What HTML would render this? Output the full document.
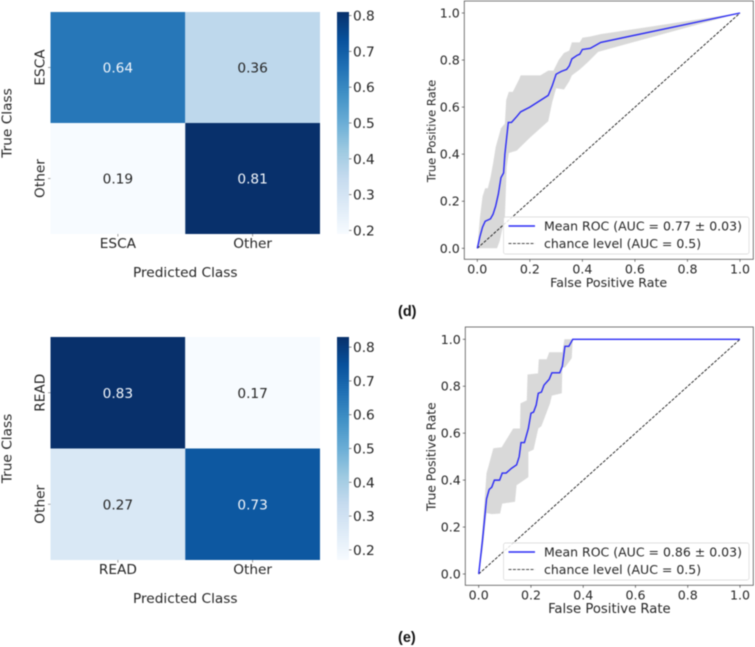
<!DOCTYPE html>
<html lang="en">
<head>
<meta charset="utf-8">
<title>Confusion matrices and ROC curves</title>
<style>
html,body{margin:0;padding:0;background:#fff;width:755px;height:647px;overflow:hidden}
svg{display:block;filter:blur(0.45px)}
text{font-family:"DejaVu Sans",sans-serif;fill:#262626}
text.caption{font-family:"Liberation Sans",sans-serif;font-weight:bold;font-size:14.5px;fill:#111}
</style>
</head>
<body>
<svg id="figure" xmlns="http://www.w3.org/2000/svg" width="755" height="647" viewBox="0 0 755 647">
  <defs id="defs"></defs>
  <g id="heatmap-esca"></g>
  <g id="roc-esca"></g>
  <text class="caption" x="398" y="316">(d)</text>
  <g id="heatmap-read"></g>
  <g id="roc-read"></g>
  <text class="caption" x="398" y="642">(e)</text>
</svg>
<script>
// ---- Confusion matrix data ----
const escaClasses = ['ESCA', 'Other'];
const escaValues = [[0.64, 0.36], [0.19, 0.81]];
const readClasses = ['READ', 'Other'];
const readValues = [[0.83, 0.17], [0.27, 0.73]];
const colorbarTicks = [0.2, 0.3, 0.4, 0.5, 0.6, 0.7, 0.8];

// ---- ROC data: ESCA ----
const escaMeanFpr = [0, 0.01, 0.02, 0.03, 0.05, 0.06, 0.07, 0.08, 0.09, 0.1, 0.105, 0.118, 0.13, 0.15, 0.165, 0.2, 0.27, 0.285, 0.3, 0.32, 0.34, 0.35, 0.36, 0.38, 0.39, 0.4, 0.43, 0.47, 1];
const escaMeanTpr = [0, 0.05, 0.09, 0.115, 0.125, 0.145, 0.18, 0.23, 0.3, 0.32, 0.4, 0.535, 0.535, 0.56, 0.58, 0.6, 0.65, 0.69, 0.74, 0.752, 0.76, 0.775, 0.805, 0.82, 0.825, 0.845, 0.85, 0.875, 1];
const escaUpperFpr = [0, 0.01, 0.02, 0.03, 0.04, 0.05, 0.06, 0.07, 0.09, 0.105, 0.11, 0.12, 0.135, 0.16, 0.165, 0.24, 0.27, 0.29, 0.31, 0.33, 0.35, 0.36, 0.39, 0.4, 0.43, 0.47, 1];
const escaUpperTpr = [0, 0.13, 0.22, 0.255, 0.255, 0.3, 0.36, 0.43, 0.51, 0.53, 0.63, 0.665, 0.665, 0.72, 0.735, 0.735, 0.755, 0.755, 0.8, 0.83, 0.84, 0.875, 0.875, 0.895, 0.9, 0.91, 1];
const escaLowerFpr = [0, 0.075, 0.085, 0.095, 0.105, 0.112, 0.12, 0.15, 0.2, 0.27, 0.285, 0.3, 0.33, 0.35, 0.36, 0.39, 0.42, 0.46, 1];
const escaLowerTpr = [0, 0, 0.03, 0.08, 0.134, 0.347, 0.405, 0.415, 0.47, 0.54, 0.62, 0.68, 0.675, 0.71, 0.735, 0.76, 0.79, 0.835, 1];

// ---- ROC data: READ ----
const readMeanFpr = [0, 0.015, 0.03, 0.04, 0.05, 0.06, 0.08, 0.09, 0.105, 0.125, 0.145, 0.155, 0.162, 0.175, 0.19, 0.2, 0.21, 0.22, 0.228, 0.24, 0.25, 0.27, 0.28, 0.31, 0.32, 0.33, 0.345, 0.36, 1];
const readMeanTpr = [0, 0.15, 0.32, 0.36, 0.37, 0.4, 0.4, 0.43, 0.43, 0.45, 0.465, 0.5, 0.56, 0.56, 0.62, 0.685, 0.69, 0.72, 0.77, 0.775, 0.805, 0.83, 0.857, 0.857, 0.885, 0.97, 0.97, 1, 1];
const readUpperFpr = [0, 0.015, 0.03, 0.04, 0.056, 0.088, 0.132, 0.158, 0.16, 0.184, 0.187, 0.227, 0.23, 0.26, 0.27, 0.32, 0.328, 1];
const readUpperTpr = [0, 0.2, 0.43, 0.47, 0.536, 0.54, 0.62, 0.62, 0.727, 0.74, 0.85, 0.855, 0.915, 0.915, 0.945, 0.945, 1, 1];
const readLowerFpr = [0, 0.015, 0.03, 0.05, 0.082, 0.09, 0.139, 0.145, 0.19, 0.19, 0.21, 0.228, 0.24, 0.273, 0.28, 0.318, 0.32, 0.33, 0.35, 0.356, 0.36, 1];
const readLowerTpr = [0, 0.1, 0.26, 0.255, 0.258, 0.3, 0.308, 0.378, 0.413, 0.52, 0.53, 0.62, 0.63, 0.727, 0.76, 0.77, 0.88, 0.88, 0.91, 0.92, 1, 1];
const chanceLine = [0, 1];
const rocTicks = [0, 0.2, 0.4, 0.6, 0.8, 1];

const SVG_NS = 'http://www.w3.org/2000/svg';
const bluesStops = ['#f7fbff', '#deebf7', '#c6dbef', '#9ecae1', '#6baed6', '#4292c6', '#2171b5', '#08519c', '#08306b'];

function hexToRgb(h) {
  return [1, 3, 5].map(function (i) { return parseInt(h.substr(i, 2), 16); });
}
function blues(t) {
  const p = Math.max(0, Math.min(1, t)) * (bluesStops.length - 1);
  const i = Math.min(Math.floor(p), bluesStops.length - 2);
  const a = hexToRgb(bluesStops[i]);
  const b = hexToRgb(bluesStops[i + 1]);
  const f = p - i;
  return 'rgb(' + a.map(function (v, k) { return Math.round(v + (b[k] - v) * f); }).join(',') + ')';
}
function shape(parent, tag, props) {
  const el = document.createElementNS(SVG_NS, tag);
  Object.keys(props).forEach(function (k) { el.setAttribute(k, props[k]); });
  parent.appendChild(el);
  return el;
}
function label(parent, str, x, y, size, anchor, rotate) {
  const el = shape(parent, 'text', { x: x, y: y, 'font-size': size, 'text-anchor': anchor || 'middle' });
  if (rotate) el.setAttribute('transform', 'rotate(-90 ' + x + ' ' + y + ')');
  el.textContent = str;
  return el;
}

function drawHeatmap(groupId, box, classes, values, gradId) {
  const g = document.getElementById(groupId);
  const flat = values[0].concat(values[1]);
  const vmin = Math.min.apply(null, flat);
  const vmax = Math.max.apply(null, flat);
  const norm = function (v) { return (v - vmin) / (vmax - vmin); };
  const cw = (box.right - box.left) / classes.length;
  const ch = (box.bottom - box.top) / classes.length;
  const fs = 13.7;

  values.forEach(function (row, r) {
    row.forEach(function (v, c) {
      const cell = shape(g, 'rect', { x: box.left + c * cw, y: box.top + r * ch, width: cw, height: ch, fill: blues(norm(v)) });
      
      
      const t = label(g, v.toFixed(2), box.left + (c + 0.5) * cw, box.top + (r + 0.5) * ch + 5, fs);
      t.setAttribute('style', 'fill:' + (norm(v) > 0.5 ? '#f2f6fb' : '#262626'));
      
      
    });
  });

  classes.forEach(function (name, i) {
    const cx = box.left + (i + 0.5) * cw;
    const cy = box.top + (i + 0.5) * ch;
    const xt = shape(g, 'line', { x1: cx, x2: cx, y1: box.bottom, y2: box.bottom + 2.5, stroke: '#777', 'stroke-width': 0.7 });
    
    
    const yt = shape(g, 'line', { x1: box.left - 2.5, x2: box.left, y1: cy, y2: cy, stroke: '#777', 'stroke-width': 0.7 });
    
    
    const xl = label(g, name, cx, box.bottom + 14.2, fs);
    
    
    const yl = label(g, name, box.left - 6, cy, fs, 'middle', true);
    
    
  });

  const xTitle = label(g, 'Predicted Class', (box.left + box.right) / 2, box.bottom + 43, fs);
  
  
  const yTitle = label(g, 'True Class', 11.5, (box.top + box.bottom) / 2, fs, 'middle', true);
  
  

  // colorbar
  const defs = document.getElementById('defs');
  const grad = shape(defs, 'linearGradient', { id: gradId, x1: 0, y1: 1, x2: 0, y2: 0 });
  bluesStops.forEach(function (col, i) {
    shape(grad, 'stop', { offset: i / (bluesStops.length - 1), 'stop-color': col });
  });
  const barLeft = 337, barRight = 349;
  const bar = shape(g, 'rect', { x: barLeft, y: box.top, width: barRight - barLeft, height: box.bottom - box.top, fill: 'url(#' + gradId + ')' });
  
  
  const barY = function (v) { return box.bottom - norm(v) * (box.bottom - box.top); };
  colorbarTicks.forEach(function (v) {
    const y = barY(v);
    const tick = shape(g, 'line', { x1: barRight, x2: barRight + 2.5, y1: y, y2: y, stroke: '#555', 'stroke-width': 0.7 });
    
    
    const tl = label(g, v.toFixed(1), 353, y + 5, fs, 'start');
    
    
  });
}

function drawRoc(groupId, box, series, legendText) {
  const g = document.getElementById(groupId);
  const sx = function (v) { return box.x0 + v * (box.x1 - box.x0); };
  const sy = function (v) { return box.y0 + v * (box.y1 - box.y0); };
  const pts = function (xs, ys) {
    return xs.map(function (x, i) { return sx(x).toFixed(2) + ',' + sy(ys[i]).toFixed(2); });
  };
  const fs = 12.6;

  const upper = pts(series.upperFpr, series.upperTpr);
  const lower = pts(series.lowerFpr, series.lowerTpr).reverse();
  const band = shape(g, 'polygon', { points: upper.concat(lower).join(' '), fill: '#808080', 'fill-opacity': 0.3 });
  
  

  const chance = shape(g, 'polyline', { points: pts(chanceLine, chanceLine).join(' '), fill: 'none', stroke: '#111', 'stroke-width': 0.85, 'stroke-dasharray': '3 1.4' });
  
  

  const mean = shape(g, 'polyline', { points: pts(series.meanFpr, series.meanTpr).join(' '), fill: 'none', stroke: '#2a2af5', 'stroke-width': 1.4 });
  
  

  const frame = shape(g, 'rect', { x: box.left, y: box.top, width: box.right - box.left, height: box.bottom - box.top, fill: 'none', stroke: '#555', 'stroke-width': 0.8 });
  
  

  rocTicks.forEach(function (v) {
    const x = sx(v), y = sy(v);
    const xt = shape(g, 'line', { x1: x, x2: x, y1: box.bottom, y2: box.bottom + 2.5, stroke: '#444', 'stroke-width': 0.7 });
    
    
    const yt = shape(g, 'line', { x1: box.left - 2.5, x2: box.left, y1: y, y2: y, stroke: '#444', 'stroke-width': 0.7 });
    
    
    const xl = label(g, v.toFixed(1), x, box.bottom + 14, fs);
    
    
    const yl = label(g, v.toFixed(1), box.left - 4.5, y + 4.5, fs, 'end');
    
    
  });

  const xTitle = label(g, 'False Positive Rate', (box.x0 + box.x1) / 2, box.bottom + 27.7, box.xTitleSize);
  
  
  const yTitle = label(g, 'True Positive Rate', 435.5, box.yTitleCenter, box.yTitleSize, 'middle', true);
  
  

  const leg = shape(g, 'rect', { x: 503.5, y: box.legendTop, width: 245.5, height: 37, rx: 2, fill: '#fff', 'fill-opacity': 0.85, stroke: '#d6d6d6', 'stroke-width': 0.7 });
  
  
  const y1 = box.legendTop + 9, y2 = box.legendTop + 26.5;
  const key1 = shape(g, 'line', { x1: 508.5, x2: 535, y1: y1, y2: y1, stroke: '#2a2af5', 'stroke-width': 1.4 });
  
  
  const key2 = shape(g, 'line', { x1: 508.5, x2: 535, y1: y2, y2: y2, stroke: '#111', 'stroke-width': 0.85, 'stroke-dasharray': '3 1.4' });
  
  
  const t1 = label(g, legendText, 544, y1 + 4.5, 12.5, 'start');
  
  
  const t2 = label(g, 'chance level (AUC = 0.5)', 544, y2 + 4.5, 12.5, 'start');
  
  
}

drawHeatmap('heatmap-esca', { left: 50.5, right: 320, top: 12, bottom: 234 }, escaClasses, escaValues, 'cbar-esca');
drawHeatmap('heatmap-read', { left: 50.5, right: 320, top: 337, bottom: 560 }, readClasses, readValues, 'cbar-read');

drawRoc('roc-esca',
  { left: 464.3, right: 753.3, top: 1, bottom: 259.3, x0: 477.3, x1: 740, y0: 248.3, y1: 13, legendTop: 217, xTitleSize: 12.6, yTitleSize: 11.5, yTitleCenter: 131 },
  { meanFpr: escaMeanFpr, meanTpr: escaMeanTpr, upperFpr: escaUpperFpr, upperTpr: escaUpperTpr, lowerFpr: escaLowerFpr, lowerTpr: escaLowerTpr },
  'Mean ROC (AUC = 0.77 ± 0.03)');
drawRoc('roc-read',
  { left: 465.3, right: 753.3, top: 327, bottom: 585.3, x0: 478.7, x1: 740, y0: 574, y1: 339.3, legendTop: 543, xTitleSize: 13.2, yTitleSize: 12.2, yTitleCenter: 456.7 },
  { meanFpr: readMeanFpr, meanTpr: readMeanTpr, upperFpr: readUpperFpr, upperTpr: readUpperTpr, lowerFpr: readLowerFpr, lowerTpr: readLowerTpr },
  'Mean ROC (AUC = 0.86 ± 0.03)');
</script>
</body>
</html>
